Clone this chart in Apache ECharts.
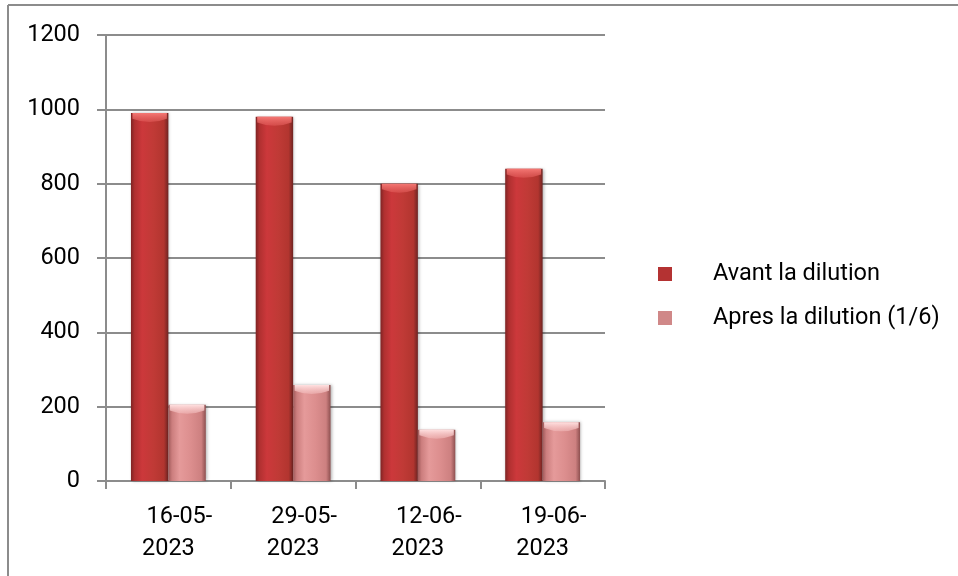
<!DOCTYPE html>
<html>
<head>
<meta charset="utf-8">
<script src="https://cdn.jsdelivr.net/npm/echarts@6/dist/echarts.min.js"></script>
<style>
  html, body { margin: 0; padding: 0; background: #fff; }
  #chart { width: 958px; height: 576px; }
</style>
</head>
<body>
<div id="chart"></div>
<script>
// Sample dates and the measured values before / after the 1:6 dilution
var dates = ['16-05-2023', '29-05-2023', '12-06-2023', '19-06-2023'];
var avant = [990, 980, 800, 840];
var apres = [205, 258, 138, 158];
var yTicks = [0, 200, 400, 600, 800, 1000, 1200];
var seriesNames = ['Avant la dilution', 'Apres la dilution (1/6)'];

var FONT = 'Roboto, "Open Sans", sans-serif';
var FS = 23.5;
var GRID_COLOR = '#8c8c8c';

function cylinder(stops) {
  return new echarts.graphic.LinearGradient(0, 0, 1, 0, stops.map(function (s) {
    return { offset: s[0], color: s[1] };
  }));
}

// horizontal shading gives the bars a rounded, tube-like look
var darkFill = cylinder([[0, '#7e2424'], [0.1, '#b03030'], [0.3, '#cc383b'], [0.6, '#c03a36'], [0.88, '#b2352f'], [1, '#6e2422']]);
var lightFill = cylinder([[0, '#a05a5a'], [0.1, '#cc7e7e'], [0.3, '#e59a9a'], [0.6, '#dc8e8e'], [0.88, '#cd8080'], [1, '#8e5050']]);
// lighter cap at the top of each tube: flat top, curved lower edge
var capShape = 'path://M0,0 L20,0 L20,5 Q10,11 0,5 Z';
var darkCap = new echarts.graphic.LinearGradient(0, 0, 0, 1, [
  { offset: 0, color: 'rgba(244,120,116,1)' }, { offset: 1, color: 'rgba(226,92,90,0.55)' }
]);
var lightCap = new echarts.graphic.LinearGradient(0, 0, 0, 1, [
  { offset: 0, color: 'rgba(255,224,224,1)' }, { offset: 1, color: 'rgba(242,186,186,0.55)' }
]);

var labelStyle = { fontFamily: FONT, fontSize: FS, color: '#000' };

var chart = echarts.init(document.getElementById('chart'), null, { renderer: 'canvas' });

function capSeries(name, values, color) {
  return {
    name: name,
    type: 'pictorialBar',
    data: values,
    barGap: '0%',
    barCategoryGap: '40%',
    symbol: capShape,
    symbolPosition: 'end',
    symbolSize: ['92%', 9],
    symbolOffset: [0, 0],
    symbolKeepAspect: false,
    silent: true,
    z: 3,
    itemStyle: { color: color }
  };
}

chart.setOption({
  backgroundColor: '#ffffff',
  animation: false,
  grid: { left: 106, right: 353, top: 35, bottom: 95, containLabel: false },
  legend: {
    orient: 'vertical',
    left: 653,
    top: 257,
    itemWidth: 14,
    itemHeight: 14,
    itemGap: 20,
    icon: 'rect',
    textStyle: { fontFamily: FONT, fontSize: FS, color: '#000', padding: [0, 0, 0, 36] },
    data: seriesNames.map(function (n, i) {
      return { name: n, itemStyle: { color: i === 0 ? '#b43232' : '#d08888' } };
    })
  },
  xAxis: {
    type: 'category',
    data: dates,
    boundaryGap: true,
    axisLine: { lineStyle: { color: GRID_COLOR, width: 2 } },
    axisTick: { show: true, length: 8, lineStyle: { color: GRID_COLOR, width: 2 } },
    axisLabel: {
      margin: 20,
      interval: 0,
      color: '#000',
      fontFamily: FONT,
      fontSize: FS,
      lineHeight: 32,
      formatter: function (v) {
        var i = v.lastIndexOf('-');
        return '{a|' + v.slice(0, i + 1) + '}\n{b|' + v.slice(i + 1) + '}';
      },
      rich: {
        a: Object.assign({ lineHeight: 32, padding: [0, 0, 0, 22] }, labelStyle),
        b: Object.assign({ lineHeight: 32 }, labelStyle)
      }
    }
  },
  yAxis: {
    type: 'value',
    min: yTicks[0],
    max: yTicks[yTicks.length - 1],
    interval: yTicks[1] - yTicks[0],
    axisLine: { show: true, lineStyle: { color: GRID_COLOR, width: 2 } },
    axisTick: { show: true, length: 9, lineStyle: { color: GRID_COLOR, width: 2 } },
    splitLine: { show: true, lineStyle: { color: GRID_COLOR, width: 2 } },
    axisLabel: Object.assign({ margin: 26, formatter: function (v) { return String(v); } }, labelStyle)
  },
  series: [
    {
      name: seriesNames[0],
      type: 'bar',
      data: avant,
      barGap: '0%',
      barCategoryGap: '40%',
      itemStyle: { color: darkFill, shadowColor: 'rgba(0,0,0,0.3)', shadowBlur: 3, shadowOffsetX: 1 }
    },
    {
      name: seriesNames[1],
      type: 'bar',
      data: apres,
      barGap: '0%',
      barCategoryGap: '40%',
      itemStyle: { color: lightFill, shadowColor: 'rgba(0,0,0,0.3)', shadowBlur: 3, shadowOffsetX: 1 }
    },
    capSeries(seriesNames[0], avant, darkCap),
    capSeries(seriesNames[1], apres, lightCap)
  ],
  graphic: [
    { type: 'line', shape: { x1: 8, y1: 5, x2: 958, y2: 5 }, style: { stroke: GRID_COLOR, lineWidth: 2 } },
    { type: 'line', shape: { x1: 8, y1: 5, x2: 8, y2: 576 }, style: { stroke: GRID_COLOR, lineWidth: 2 } }
  ]
});
</script>
</body>
</html>
